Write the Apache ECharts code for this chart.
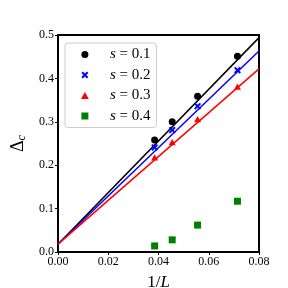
<!DOCTYPE html>
<html><head><meta charset="utf-8">
<script src="https://cdn.jsdelivr.net/npm/echarts@6/dist/echarts.min.js"></script>
<style>html,body{margin:0;padding:0;background:#fff}#c{width:288px;height:288px}</style>
</head><body><div id="c"></div>
<script>
const invL = [1/26, 1/22, 1/18, 1/14];
const s01 = [0.258, 0.300, 0.359, 0.451];
const s02 = [0.241, 0.281, 0.336, 0.419];
const s03 = [0.218, 0.253, 0.306, 0.381];
const s04 = [0.014, 0.028, 0.062, 0.117];
const fitX = [0, 0.08];
const fit01 = [0.018, 0.494];
const fit02 = [0.018, 0.463];
const fit03 = [0.018, 0.422];
const xTicks = ['0.00','0.02','0.04','0.06','0.08'];
const yTicks = ['0.0','0.1','0.2','0.3','0.4','0.5'];
const names = ['s01','s02','s03','s04'];
const labels = {s01:'0.1', s02:'0.2', s03:'0.3', s04:'0.4'};

const FONT = 'Liberation Serif';
const cross = 'path://M0,2L2,0L5,3L8,0L10,2L7,5L10,8L8,10L5,7L2,10L0,8L3,5Z';
const tri = 'path://M5,0L10,9L0,9Z';
const sq = 'path://M0,0L10,0L10,10L0,10Z';
const pts = (ys) => invL.map((x,i)=>[x, ys[i]]);
const ln = (ys) => fitX.map((x,i)=>[x, ys[i]]);

const chart = echarts.init(document.getElementById('c'), null, {renderer:'canvas'});
chart.setOption({
  animation: false,
  backgroundColor: '#fff',
  grid: {left: 58, right: 29, top: 35, bottom: 36, outerBoundsMode: 'none', containLabel: false, show: true, borderColor: '#000', borderWidth: 2, backgroundColor: 'transparent'},
  xAxis: {
    type: 'value', min: 0, max: 0.08, interval: 0.02,
    axisLine: {show: true, onZero: false, lineStyle: {color: '#000', width: 2}},
    axisTick: {show: true, length: 3, lineStyle: {color: '#000', width: 1}},
    splitLine: {show: false},
    axisLabel: {color: '#000', fontFamily: FONT, fontSize: 12, margin: 4,
      formatter: (v) => xTicks[Math.round(v/0.02)]},
    name: '{n|1/}{i|L}', nameLocation: 'middle', nameGap: 22,
    nameTextStyle: {rich: {n: {fontFamily: FONT, fontSize: 17, color: '#000'}, i: {fontFamily: FONT, fontSize: 17, fontStyle: 'italic', color: '#000'}}}
  },
  yAxis: {
    type: 'value', min: 0, max: 0.5, interval: 0.1,
    axisLine: {show: true, onZero: false, lineStyle: {color: '#000', width: 2}},
    axisTick: {show: true, length: 3, lineStyle: {color: '#000', width: 1}},
    splitLine: {show: false},
    axisLabel: {color: '#000', fontFamily: FONT, fontSize: 12, margin: 4,
      formatter: (v) => yTicks[Math.round(v/0.1)]},
    name: '{d|Δ}{c|c}', nameLocation: 'middle', nameGap: 24, nameRotate: 90,
    nameTextStyle: {rich: {d: {fontFamily: FONT, fontSize: 18, color: '#000'}, c: {fontFamily: FONT, fontSize: 12, fontStyle: 'italic', color: '#000', padding: [8,0,0,0]}}}
  },
  legend: {
    left: 65, top: 43, orient: 'vertical',
    data: names,
    itemWidth: 26, itemHeight: 7, itemGap: 5.5, itemTextGap: 33,
    padding: [4, 6, 4, 16],
    borderColor: '#ccc', borderWidth: 1, borderRadius: 3, backgroundColor: 'rgba(255,255,255,0.8)',
    formatter: (n) => '{p|}{i|s} = ' + labels[n],
    textStyle: {fontFamily: FONT, fontSize: 15, lineHeight: 14, color: '#000',
      rich: {
        p: {width: 7, height: 1},
        i: {fontFamily: FONT, fontSize: 15, lineHeight: 14, fontStyle: 'italic', color: '#000'}}}
  },
  series: [
    {type: 'line', data: ln(fit01), symbol: 'none', lineStyle: {color: '#000', width: 1.5}, z: 2, silent: true},
    {type: 'line', data: ln(fit02), symbol: 'none', lineStyle: {color: '#0000ff', width: 1.5}, z: 2, silent: true},
    {type: 'line', data: ln(fit03), symbol: 'none', lineStyle: {color: '#ff0000', width: 1.5}, z: 2, silent: true},
    {name: 's01', type: 'scatter', data: pts(s01), symbol: 'circle', symbolSize: 7, itemStyle: {color: '#000', opacity: 1}, z: 3},
    {name: 's02', type: 'scatter', data: pts(s02), symbol: cross, symbolSize: 7, symbolKeepAspect: true, itemStyle: {color: '#0000ff', opacity: 1}, z: 3},
    {name: 's03', type: 'scatter', data: pts(s03), symbol: tri, symbolSize: 7, symbolKeepAspect: true, itemStyle: {color: '#ff0000', opacity: 1}, z: 3},
    {name: 's04', type: 'scatter', data: pts(s04), symbol: sq, symbolSize: 7, symbolKeepAspect: true, itemStyle: {color: '#007f00', opacity: 1}, z: 3}
  ]
});
</script></body></html>
